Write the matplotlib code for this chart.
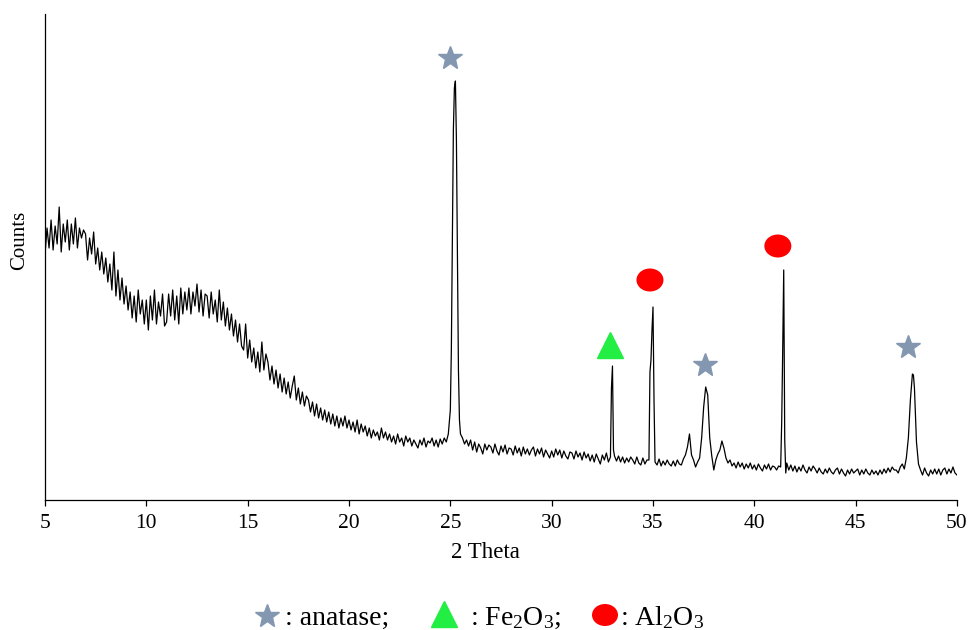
import numpy as np
import matplotlib
matplotlib.use("Agg")
import matplotlib.pyplot as plt
from matplotlib.patches import Ellipse

plt.rcParams["font.family"] = ["Liberation Serif", "DejaVu Serif"]
plt.rcParams["mathtext.fontset"] = "custom"
plt.rcParams["mathtext.rm"] = "Liberation Serif"
plt.rcParams["mathtext.it"] = "Liberation Serif:italic"

# ----------------------- data -----------------------
tt_start, tt_step = 5.0, 0.1
counts = [
    245, 272, 252, 280, 250, 274, 256, 293, 248, 276,   # 5
    258, 280, 250, 276, 256, 282, 252, 272, 262, 270,   # 6
    266, 240, 262, 246, 268, 236, 252, 230, 248, 226,   # 7
    242, 218, 236, 210, 248, 204, 230, 200, 222, 196,   # 8
    214, 190, 208, 182, 204, 178, 210, 186, 200, 176,   # 9
    200, 170, 204, 180, 210, 176, 198, 184, 206, 174,   # 10
    178, 206, 184, 210, 180, 204, 176, 212, 186, 208,   # 11
    190, 212, 186, 208, 194, 216, 188, 210, 184, 206,   # 12
    204, 182, 208, 186, 200, 178, 210, 180, 198, 174,   # 13
    192, 170, 186, 164, 180, 158, 176, 154, 150, 176,   # 14
    142, 160, 138, 152, 132, 148, 128, 158, 130, 146,   # 15
    138, 120, 134, 116, 130, 112, 126, 108, 122, 106,   # 16
    118, 102, 114, 124, 100, 112, 96, 108, 94, 104,     # 17
    100, 88, 98, 84, 96, 82, 92, 80, 90, 78,            # 18
    88, 76, 86, 74, 84, 72, 82, 74, 84, 72,             # 19
    80, 70, 78, 68, 80, 66, 76, 68, 74, 64,             # 20
    72, 62, 70, 64, 68, 60, 72, 62, 68, 60,             # 21
    66, 58, 64, 56, 66, 58, 62, 54, 64, 58,             # 22
    62, 54, 60, 56, 52, 60, 55, 62, 53, 59,             # 23
    57, 62, 54, 60, 53, 61, 56, 62, 58, 66,             # 24
    90, 260, 412, 360, 130, 66, 62, 56, 60, 54,         # 25
    60, 50, 58, 48, 56, 52, 46, 56, 50, 55,             # 26
    53, 47, 56, 49, 45, 54, 48, 55, 46, 52,             # 27
    51, 45, 54, 47, 52, 44, 53, 46, 51, 45,             # 28
    50, 53, 44, 51, 46, 52, 43, 50, 46, 42,             # 29
    49, 43, 51, 45, 50, 42, 49, 44, 41, 48,             # 30
    47, 41, 49, 43, 47, 40, 48, 42, 46, 39,             # 31
    45, 38, 46, 41, 36, 45, 40, 47, 38, 43,             # 32
    134, 44, 39, 44, 38, 43, 37, 42, 38, 43,            # 33
    40, 36, 43, 37, 35, 42, 36, 40, 40, 140,            # 34
    193, 38, 35, 41, 34, 39, 35, 40, 36, 34,            # 35
    39, 34, 40, 36, 35, 41, 45, 53, 66, 45,             # 36
    40, 33, 38, 42, 62, 93, 113, 105, 62, 44,           # 37
    30, 40, 46, 50, 59, 52, 42, 37, 40, 34,             # 38
    37, 32, 38, 33, 37, 31, 36, 32, 37, 31,             # 39
    35, 30, 36, 32, 29, 35, 31, 36, 30, 34,             # 40
    33, 30, 34, 33, 150, 60, 37, 30, 35, 29,            # 41
    34, 28, 33, 29, 35, 30, 27, 33, 29, 34,             # 42
    31, 27, 32, 28, 26, 31, 27, 32, 28, 26,             # 43
    30, 32, 26, 31, 27, 24, 30, 26, 31, 27,             # 44
    29, 31, 25, 30, 26, 31, 27, 25, 30, 26,             # 45
    29, 25, 30, 26, 31, 27, 32, 28, 33, 30,             # 46
    30, 27, 33, 36, 31, 42, 62, 100, 126, 112,          # 47
    58, 36, 30, 25, 32, 27, 24, 30, 26, 31,             # 48
    26, 31, 25, 30, 32, 26, 31, 27, 33, 27,             # 49
    25,                                                 # 50
]

# extra half-step points on the sharp peaks
fine_tt = [25.05, 25.15, 25.25, 25.35, 25.45,
           32.95, 33.05,
           34.85, 34.95, 35.05,
           41.35, 41.45, 41.55,
           47.85]
fine_counts = [150, 370, 419, 240, 80,
               112, 50,
               128, 170, 100,
               78, 230, 27,
               125]

# phase markers: 2theta and height
anatase_tt = [24.98, 37.56, 47.58]
anatase_y = [442, 135, 153]
fe2o3_tt = [32.87]
fe2o3_y = [155]
al2o3_tt = [34.85, 41.16]
al2o3_y = [220, 254]

xticks = [5, 10, 15, 20, 25, 30, 35, 40, 45, 50]

STAR_C = "#8497B0"
TRI_C = "#22EE44"
DOT_C = "#FF0000"

# ----------------------- figure -----------------------
fig = plt.figure(figsize=(9.7, 6.3), dpi=100)
ax = fig.add_axes([45 / 970, 130 / 630, 912 / 970, 486 / 630])

tt = tt_start + tt_step * np.arange(len(counts))
x_all = np.concatenate([tt, fine_tt])
y_all = np.concatenate([counts, fine_counts])
order = np.argsort(x_all)
ax.plot(x_all[order], y_all[order], color="black", lw=0.9)

ax.plot(anatase_tt, anatase_y, ls="none", marker="*", ms=18,
        color=STAR_C, mec=STAR_C)
ax.plot(fe2o3_tt, fe2o3_y, ls="none", marker="^", ms=19,
        color=TRI_C, mec=TRI_C)
for x, y in zip(al2o3_tt, al2o3_y):
    ax.add_patch(Ellipse((x, y), width=27 / 20.27, height=23,
                         facecolor=DOT_C, edgecolor="none"))

ax.set_xlim(5, 50)
ax.set_ylim(0, 486)
ax.set_xticks(xticks)
ax.set_yticks([])
ax.spines["top"].set_visible(False)
ax.spines["right"].set_visible(False)
for s in ("left", "bottom"):
    ax.spines[s].set_linewidth(0.9)
ax.tick_params(axis="x", direction="out", length=4, width=0.9,
               labelsize=15.5, pad=6)

# overlay in pixel coords for labels and legend
lay = fig.add_axes([0, 0, 1, 1], facecolor="none")
lay.set_xlim(0, 970)
lay.set_ylim(630, 0)
lay.axis("off")

lay.text(485, 553, "2 Theta", ha="center", va="center", fontsize=16.5)
lay.text(20, 240, "Counts", ha="center", va="center", fontsize=15,
         rotation=90)

lay.plot([267], [616], ls="none", marker="*", ms=18, color=STAR_C, mec=STAR_C)
lay.text(285, 625, ": anatase;", ha="left", va="baseline", fontsize=20)
lay.plot([444], [614], ls="none", marker="^", ms=19, color=TRI_C, mec=TRI_C)
lay.text(470, 625, ": Fe$_2$O$_3$;", ha="left", va="baseline", fontsize=20)
lay.add_patch(Ellipse((605, 615), width=26, height=22,
                      facecolor=DOT_C, edgecolor="none"))
lay.text(620, 625, ": Al$_2$O$_3$", ha="left", va="baseline", fontsize=20)

fig.savefig("out.png", dpi=100)
